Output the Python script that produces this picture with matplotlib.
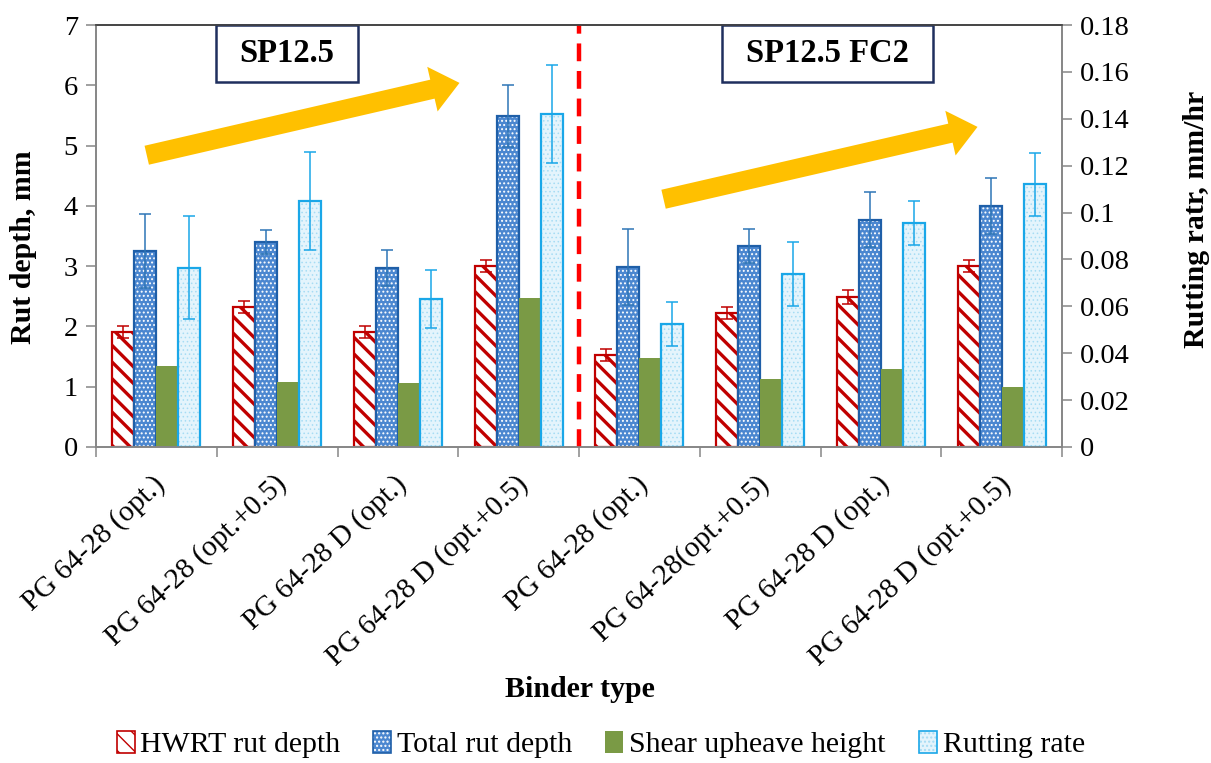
import matplotlib
matplotlib.use('Agg')
import matplotlib.pyplot as plt
import numpy as np
from matplotlib.patches import Patch, Rectangle
from matplotlib.transforms import ScaledTranslation
from matplotlib.legend_handler import HandlerTuple

plt.rcParams['font.family'] = ['Liberation Serif', 'DejaVu Serif']

binders = ['PG 64-28 (opt.)', 'PG 64-28 (opt.+0.5)', 'PG 64-28 D (opt.)',
           'PG 64-28 D (opt.+0.5)', 'PG 64-28 (opt.)', 'PG 64-28(opt.+0.5)',
           'PG 64-28 D (opt.)', 'PG 64-28 D (opt.+0.5)']

# rut depths in mm (left axis)
hwrt = [1.91, 2.32, 1.91, 3.01, 1.53, 2.22, 2.49, 3.01]
hwrt_err = [0.10, 0.10, 0.10, 0.10, 0.10, 0.10, 0.12, 0.10]
total = [3.25, 3.40, 2.97, 5.49, 2.99, 3.33, 3.77, 4.00]
total_err = [0.61, 0.20, 0.30, 0.51, 0.63, 0.28, 0.46, 0.46]
shear = [1.35, 1.08, 1.06, 2.47, 1.47, 1.13, 1.29, 1.00]

# rutting rate in mm/hr (right axis)
rate = [0.0764, 0.105, 0.0631, 0.142, 0.0525, 0.0738, 0.0955, 0.112]
rate_err = [0.022, 0.021, 0.0125, 0.021, 0.0095, 0.0136, 0.0095, 0.0133]

RED = '#c00000'
BLUE_FACE = '#4b87d0'
BLUE_EDGE = '#1f5fa8'
LBLUE_FACE = '#e4f4fc'
LBLUE_DOT = '#a6dcf4'
LBLUE_EDGE = '#1aa7e8'
GREEN = '#7a9a45'
GOLD = '#ffc000'

x = np.arange(len(binders))
w = 0.182
offs = [-1.5 * w, -0.5 * w, 0.5 * w, 1.5 * w]

fig = plt.figure(figsize=(12.11, 7.63), dpi=100)
ax = fig.add_subplot(111)
fig.subplots_adjust(left=0.0793, right=0.877, bottom=0.4142, top=0.9672)
ax2 = ax.twinx()

ekw = dict(capsize=4.5, elinewidth=1.1, capthick=1.1)


def hatch_lw(bars, lw):
    for b in bars:
        if hasattr(b, 'set_hatch_linewidth'):
            b.set_hatch_linewidth(lw)


# HWRT rut depth - red diagonal stripes
with plt.rc_context({'hatch.linewidth': 2.4}):
    b = ax.bar(x + offs[0], hwrt, w, color='white', edgecolor=RED, hatch='\\\\', lw=0)
hatch_lw(b, 2.4)
ax.bar(x + offs[0], hwrt, w, fill=False, edgecolor=RED, lw=1.6)
ax.errorbar(x + offs[0], hwrt, yerr=hwrt_err, fmt='none', ecolor=RED, **ekw)

# total rut depth - blue dotted
with plt.rc_context({'hatch.linewidth': 0.9}):
    b = ax.bar(x + offs[1], total, w, color=BLUE_FACE, edgecolor='white', hatch='....', lw=0)
hatch_lw(b, 0.9)
ax.bar(x + offs[1], total, w, fill=False, edgecolor=BLUE_EDGE, lw=1.6)
ax.errorbar(x + offs[1], total, yerr=total_err, fmt='none', ecolor='#2e75b6', **ekw)

# shear upheave height - solid green
ax.bar(x + offs[2], shear, w, color=GREEN, lw=0)

# rutting rate on the secondary axis
with plt.rc_context({'hatch.linewidth': 0.6}):
    b = ax2.bar(x + offs[3], rate, w, color=LBLUE_FACE, edgecolor=LBLUE_DOT, hatch='....', lw=0)
hatch_lw(b, 0.6)
ax2.bar(x + offs[3], rate, w, fill=False, edgecolor=LBLUE_EDGE, lw=1.6)
ax2.errorbar(x + offs[3], rate, yerr=rate_err, fmt='none', ecolor=LBLUE_EDGE, **ekw)

ax.set_xlim(-0.5, 7.5)
ax.set_ylim(0, 7)
ax2.set_ylim(0, 0.18)
ax.set_yticks(np.arange(0, 8, 1))
rticks = np.round(np.arange(0, 0.181, 0.02), 2)
ax2.set_yticks(rticks)
ax2.set_yticklabels([f'{v:g}' for v in rticks])

# category boundaries get the tick marks, names sit at the centres
ax.set_xticks(np.arange(-0.5, 8, 1))
ax.set_xticklabels([])
ax.set_xticks(x, minor=True)
ax.set_xticklabels(binders, minor=True, rotation=43, ha='right', va='top',
                   rotation_mode='anchor', fontsize=21)
ax.tick_params(axis='x', which='minor', length=0, pad=17)
shift = ScaledTranslation(-4 / 100, 0, fig.dpi_scale_trans)
for lab in ax.get_xticklabels(minor=True):
    lab.set_transform(lab.get_transform() + shift)

for a in (ax, ax2):
    a.tick_params(axis='both', which='major', direction='out', length=7,
                  width=1.1, color='#868686', labelsize=20.5, pad=6)
    for s in ('left', 'right', 'bottom'):
        a.spines[s].set_color('#868686')
        a.spines[s].set_linewidth(1.2)
    a.spines['top'].set_color('#444444')
    a.spines['top'].set_linewidth(1.2)

# divider between the two mixes
ax2.plot([3.5, 3.5], [0, 7], transform=ax.transData, color='#ff0000', lw=3.2,
         linestyle=(0, (4, 2.2)), clip_on=False)

# trend arrows
for tail, tip in [((-0.08, 4.84), (2.51, 6.04)), ((4.20, 4.11), (6.80, 5.31))]:
    ax2.annotate('', xy=tip, xytext=tail, xycoords=ax.transData, textcoords=ax.transData,
                 arrowprops=dict(arrowstyle='simple,head_width=3.3,head_length=2.0,tail_width=1.4',
                                 mutation_scale=10, color=GOLD, lw=0,
                                 shrinkA=0, shrinkB=0))

# mix labels
for (x0, x1), txt in [((0.494, 1.670), 'SP12.5'), ((4.684, 6.432), 'SP12.5 FC2')]:
    ax2.add_patch(Rectangle((x0, 6.054), x1 - x0, 0.946, transform=ax.transData,
                            facecolor='white', edgecolor='#1f2f5e', lw=1.8, clip_on=False))
    ax2.text((x0 + x1) / 2, 6.527, txt, transform=ax.transData, ha='center', va='center',
             fontsize=23.5, fontweight='bold')

fig.text(0.019, 0.676, 'Rut depth, mm', rotation=90, ha='center', va='center',
         fontsize=21.5, fontweight='bold')
fig.text(0.988, 0.712, 'Rutting ratr, mm/hr', rotation=90, ha='center', va='center',
         fontsize=21.5, fontweight='bold')
fig.text(0.479, 0.096, 'Binder type', ha='center', va='center',
         fontsize=21.5, fontweight='bold')

with plt.rc_context({'hatch.linewidth': 1.6}):
    handles = [
        Patch(facecolor='white', edgecolor=RED, hatch='\\\\', lw=1.2),
        (Patch(facecolor=BLUE_FACE, edgecolor='white', hatch='....', lw=0),
         Patch(fill=False, edgecolor=BLUE_EDGE, lw=1.2)),
        Patch(facecolor=GREEN, lw=0),
        (Patch(facecolor=LBLUE_FACE, edgecolor=LBLUE_DOT, hatch='....', lw=0),
         Patch(fill=False, edgecolor=LBLUE_EDGE, lw=1.2)),
    ]
labels = ['HWRT rut depth', 'Total rut depth', 'Shear upheave height', 'Rutting rate']
fig.legend(handles, labels, loc='center', bbox_to_anchor=(0.496, 0.024), ncol=4,
           frameon=False, fontsize=21.5, handlelength=0.6, handleheight=0.75,
           handletextpad=0.2, columnspacing=1.1,
           handler_map={tuple: HandlerTuple(ndivide=1)})

fig.savefig('out.png', dpi=100)
